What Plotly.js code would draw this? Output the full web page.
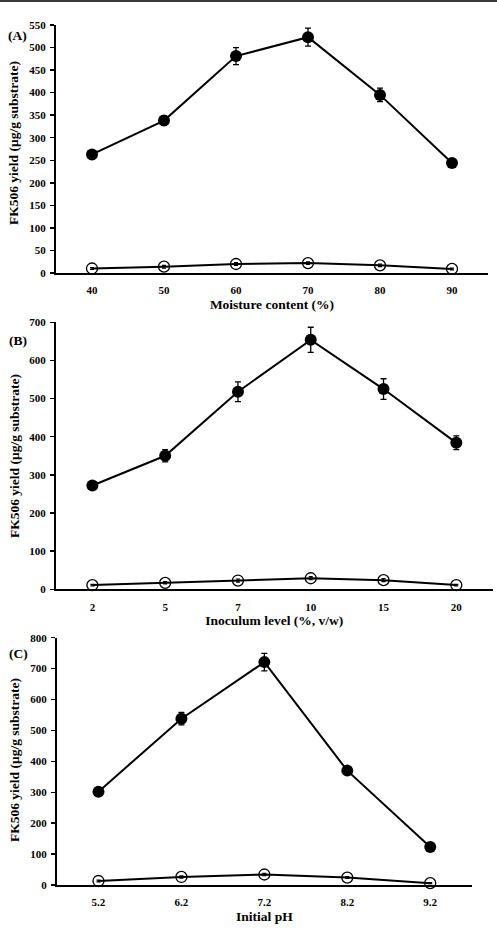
<!DOCTYPE html>
<html><head><meta charset="utf-8">
<script src="https://cdn.plot.ly/plotly-3.0.1.min.js"></script>
<style>html,body{margin:0;padding:0;background:#fff;}#top{height:2px;background:#3a3a3a;width:497px;position:absolute;top:0;left:0;z-index:5}#chart{width:497px;height:929px;}</style>
</head><body><div id="top"></div><div id="chart"></div>
<script>
// Panel A: moisture content
const moistureCats = ['40','50','60','70','80','90'];
const moistureFilled = [263, 338, 481, 523, 395, 244];
const moistureFilledErr = [6, 10, 19, 20, 15, 5];
const moistureOpen = [10, 14, 20, 22, 17, 9];
const moistureOpenErr = [2, 3, 3, 3, 3, 2];
// Panel B: inoculum level
const inoculumCats = ['2','5','7','10','15','20'];
const inoculumFilled = [272, 350, 518, 654, 525, 384];
const inoculumFilledErr = [6, 16, 26, 33, 27, 18];
const inoculumOpen = [11, 17, 23, 29, 24, 11];
const inoculumOpenErr = [2, 3, 4, 4, 4, 2];
// Panel C: initial pH
const phCats = ['5.2','6.2','7.2','8.2','9.2'];
const phFilled = [302, 538, 721, 370, 123];
const phFilledErr = [6, 20, 28, 8, 5];
const phOpen = [13, 26, 34, 24, 6];
const phOpenErr = [3, 4, 4, 3, 2];

const serif = 'Liberation Serif, Times New Roman, serif';
function filled(x, y, e, xa, ya){
  return {x:x, y:y, xaxis:xa, yaxis:ya, type:'scatter', mode:'lines+markers',
    line:{color:'#000', width:2}, marker:{symbol:'circle', size:12, color:'#000'},
    error_y:{type:'data', array:e, visible:true, color:'#000', thickness:1.3, width:3},
    showlegend:false, cliponaxis:false};
}
function open(x, y, e, xa, ya){
  return {x:x, y:y, xaxis:xa, yaxis:ya, type:'scatter', mode:'lines+markers',
    line:{color:'#000', width:2}, marker:{symbol:'circle-open', size:11, color:'#000', line:{width:1.3, color:'#000'}},
    error_y:{type:'data', array:e, visible:true, color:'#000', thickness:1.2, width:2},
    showlegend:false, cliponaxis:false};
}
const data = [
  filled(moistureCats, moistureFilled, moistureFilledErr, 'x', 'y'),
  open(moistureCats, moistureOpen, moistureOpenErr, 'x', 'y'),
  filled(inoculumCats, inoculumFilled, inoculumFilledErr, 'x2', 'y2'),
  open(inoculumCats, inoculumOpen, inoculumOpenErr, 'x2', 'y2'),
  filled(phCats, phFilled, phFilledErr, 'x3', 'y3'),
  open(phCats, phOpen, phOpenErr, 'x3', 'y3')
];
const W = 497, H = 929;
function xd(a,b){return [a/W, b/W];}
function yd(top,bot){return [1-bot/H, 1-top/H];}
const tickFont = {family:serif, size:11, color:'#000', weight:'bold'};
function xaxis(dom, anchor, n, title){
  return {domain:dom, anchor:anchor, type:'category', range:[-0.5, n-0.5],
    showline:true, linecolor:'#000', linewidth:2, ticks:'', showgrid:false, zeroline:false,
    tickfont:tickFont, ticklabelstandoff:6,
    title:{text:title, font:{family:serif, size:13.5, color:'#000', weight:'bold'}, standoff:4}};
}
function yaxis(dom, anchor, max, dt){
  return {domain:dom, anchor:anchor, range:[0, max], dtick:dt, tick0:0,
    showline:true, linecolor:'#000', linewidth:2, ticks:'outside', ticklen:4, tickwidth:1.5, tickcolor:'#000',
    showgrid:false, zeroline:false, tickfont:tickFont, ticklabelstandoff:2};
}
const yLabel = 'FK506 yield (μg/g substrate)';
function ylab(cy){
  return {text:yLabel, xref:'paper', yref:'paper', x:14/W, y:1-cy/H, textangle:-90, showarrow:false,
    font:{family:serif, size:13.5, color:'#000', weight:'bold'}, xanchor:'center', yanchor:'middle'};
}
function plab(t, cx, cy){
  return {text:t, xref:'paper', yref:'paper', x:cx/W, y:1-cy/H, showarrow:false,
    font:{family:serif, size:13.5, color:'#000', weight:'bold'}, xanchor:'center', yanchor:'middle'};
}
const layout = {
  width:W, height:H, margin:{l:0, r:0, t:0, b:0}, paper_bgcolor:'#fff', plot_bgcolor:'#fff',
  xaxis: xaxis(xd(56,488), 'y', 6, 'Moisture content (%)'),
  yaxis: yaxis(yd(25,273), 'x', 550, 50),
  xaxis2: xaxis(xd(56,492.7), 'y2', 6, 'Inoculum level (%, v/w)'),
  yaxis2: yaxis(yd(322.3,589.3), 'x2', 700, 100),
  xaxis3: xaxis(xd(57,471.7), 'y3', 5, 'Initial pH'),
  yaxis3: yaxis(yd(637.7,885), 'x3', 800, 100),
  annotations:[
    ylab(143), ylab(456), ylab(760),
    plab('(A)', 17, 36), plab('(B)', 18, 340), plab('(C)', 18, 653)
  ]
};
Plotly.newPlot('chart', data, layout, {displayModeBar:false, staticPlot:true});
</script></body></html>
